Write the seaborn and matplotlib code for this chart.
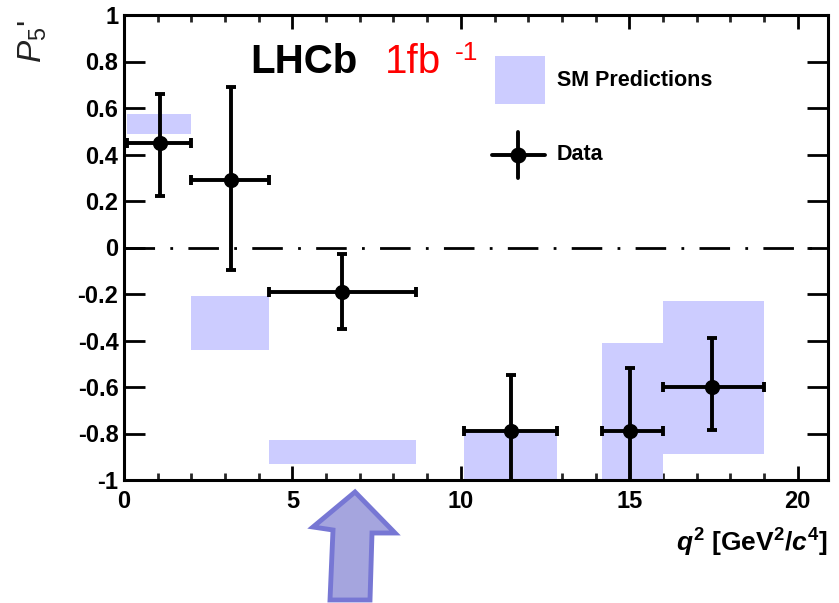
import numpy as np
import pandas as pd
import matplotlib
matplotlib.use("Agg")
import matplotlib.pyplot as plt
import seaborn as sns
from matplotlib.patches import Rectangle, Polygon
from matplotlib.lines import Line2D

# ---------------- data ----------------
bin_lo = [0.1, 2.0, 4.3, 10.09, 14.18, 16.0]
bin_hi = [2.0, 4.3, 8.68, 12.86, 16.0, 19.0]
data_x = [1.07, 3.17, 6.48, 11.48, 15.03, 17.46]
p5_val = [0.45, 0.29, -0.19, -0.79, -0.79, -0.60]
p5_err_up = [0.21, 0.40, 0.16, 0.24, 0.27, 0.21]
p5_err_dn = [0.23, 0.385, 0.16, 0.22, 0.27, 0.185]
sm_lo = [0.49, -0.44, -0.93, -1.05, -1.05, -0.89]
sm_hi = [0.575, -0.21, -0.83, -0.79, -0.41, -0.23]
xtick_vals = [0, 5, 10, 15, 20]
ytick_vals = [-1, -0.8, -0.6, -0.4, -0.2, 0, 0.2, 0.4, 0.6, 0.8, 1]
ytick_labels = ["-1", "-0.8", "-0.6", "-0.4", "-0.2", "0", "0.2", "0.4", "0.6", "0.8", "1"]

df = pd.DataFrame({"x": data_x, "y": p5_val, "lo": bin_lo, "hi": bin_hi,
                   "eup": p5_err_up, "edn": p5_err_dn})
sm = pd.DataFrame({"lo": bin_lo, "hi": bin_hi, "ylo": sm_lo, "yhi": sm_hi})

# ---------------- style ----------------
sns.set_theme(style="ticks")
plt.rcParams["font.family"] = ["Liberation Sans", "DejaVu Sans"]
plt.rcParams["lines.scale_dashes"] = False
plt.rcParams["mathtext.fontset"] = "custom"
plt.rcParams["mathtext.rm"] = "Liberation Sans:bold"
plt.rcParams["mathtext.it"] = "Liberation Sans:italic:bold"
plt.rcParams["mathtext.bf"] = "Liberation Sans:bold"
plt.rcParams["mathtext.sf"] = "Liberation Sans"
plt.rcParams["mathtext.cal"] = "Liberation Sans:italic"

fig = plt.figure(figsize=(8.39, 6.03), dpi=100)
ax = fig.add_axes([124 / 839, 1 - 480 / 603, 704 / 839, 465 / 603])

box_color = "#CCCCFF"
# SM prediction boxes
ax.bar(sm["lo"], sm["yhi"] - sm["ylo"], bottom=sm["ylo"], width=sm["hi"] - sm["lo"],
       align="edge", color=box_color, edgecolor="none", zorder=1)

# zero line
ax.axhline(0, color="black", lw=2.0, dashes=(22, 11, 2, 11), zorder=2)

# data error bars
ax.errorbar(df["x"], df["y"],
            xerr=[df["x"] - df["lo"], df["hi"] - df["x"]],
            yerr=[df["edn"], df["eup"]],
            fmt="none", ecolor="black", elinewidth=2.8, capsize=3.5, capthick=2.8, zorder=3)
sns.scatterplot(data=df, x="x", y="y", ax=ax, color="black", s=120, edgecolor="black",
                linewidth=0, zorder=4, legend=False)

ax.set_xlim(0, 20.9)
ax.set_ylim(-1, 1)
ax.set_xticks(xtick_vals)
ax.set_xticklabels([str(v) for v in xtick_vals])
ax.set_xticks(np.arange(0, 21, 1), minor=True)
ax.set_yticks(ytick_vals)
ax.set_yticklabels(ytick_labels)
ax.set_xlabel("")
ax.set_ylabel("")
for s in ax.spines.values():
    s.set_visible(True)
    s.set_linewidth(2.2)
    s.set_color("black")
ax.tick_params(axis="x", which="major", direction="in", length=10, width=2.0,
               top=True, bottom=True, pad=7, labelsize=17, colors="black")
ax.tick_params(axis="x", which="minor", direction="in", length=5, width=2.0,
               top=True, bottom=True)
ax.tick_params(axis="y", which="major", direction="in", length=15, width=2.0,
               left=True, right=True, pad=4, labelsize=17, colors="black")
ax.tick_params(axis="y", which="minor", left=False, right=False)
for lab in ax.get_xticklabels() + ax.get_yticklabels():
    lab.set_fontweight("bold")

# legend (manual, ROOT style)
ax.add_patch(Rectangle((0.527, 0.8086), 0.071, 0.1032, transform=ax.transAxes,
                       facecolor=box_color, edgecolor="none", zorder=5))
ax.text(0.615, 0.860, "SM Predictions", transform=ax.transAxes, fontsize=15.5,
        fontweight="bold", va="center", ha="left", color="black")
ax.add_line(Line2D([0.523, 0.598], [0.699, 0.699], transform=ax.transAxes,
                   color="black", lw=2.8))
ax.add_line(Line2D([0.560, 0.560], [0.649, 0.748], transform=ax.transAxes,
                   color="black", lw=2.8))
ax.add_line(Line2D([0.560], [0.699], transform=ax.transAxes, marker="o",
                   markersize=10.5, color="black", lw=0))
ax.text(0.615, 0.699, "Data", transform=ax.transAxes, fontsize=15.5,
        fontweight="bold", va="center", ha="left", color="black")

# LHCb label
fig.text(250 / 839, 1 - 73 / 603, "LHCb", fontsize=29, fontweight="bold",
         color="black", ha="left", va="baseline")
fig.text(385 / 839, 1 - 73 / 603, "1fb", fontsize=29, color="#FF0000",
         ha="left", va="baseline")
fig.text(455 / 839, 1 - 60 / 603, "-1", fontsize=19, color="#FF0000",
         ha="left", va="baseline")

# axis labels
fig.text(828 / 839, 1 - 543 / 603, r"$\mathit{q}^{2}$ [GeV$^{2}$/$\mathit{c}^{4}$]",
         fontsize=19, fontweight="bold", ha="right", va="center", color="black")
fig.text(33 / 839, 1 - 42 / 603, r"$\mathcal{P}_{\mathsf{5}}$'", fontsize=24,
         rotation=90, ha="center", va="center", color="#222222")

# big arrow below the axis
arrow_px = [(355, 492), (395, 533), (372, 533), (370, 600), (330, 600),
            (333, 530), (313, 527)]
arrow_fig = [(x / 839, 1 - y / 603) for x, y in arrow_px]
fig.add_artist(Polygon(arrow_fig, closed=True, transform=fig.transFigure,
                       facecolor="#A5A5DE", edgecolor="#7777D4", lw=3.5,
                       joinstyle="miter", clip_on=False))

fig.savefig("out.png", dpi=100)
